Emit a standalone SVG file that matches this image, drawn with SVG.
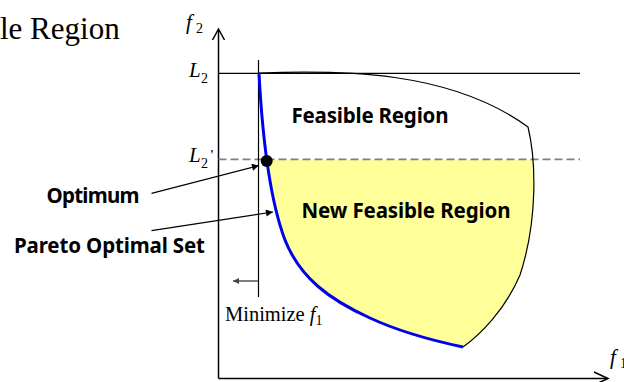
<svg xmlns="http://www.w3.org/2000/svg" width="624" height="382" viewBox="0 0 624 382">
  <style>
    .ax{stroke:#000;stroke-width:1.5;fill:none}
    .thin{stroke:#000;stroke-width:1.2;fill:none}
    .lbl{font-family:"Noto Sans","Liberation Sans",sans-serif;font-weight:bold;font-size:20.5px;fill:#000}
    .ser{font-family:"Liberation Serif","Times New Roman",serif;fill:#000}
    .it{font-style:italic}
  </style>
  <defs>
    <marker id="ah" viewBox="0 0 10 10" refX="10" refY="5" markerWidth="9" markerHeight="7" markerUnits="userSpaceOnUse" orient="auto">
      <path d="M0,0 L10,5 L0,10 Z" fill="#000"/>
    </marker>
    <marker id="ahg" viewBox="0 0 10 10" refX="10" refY="5" markerWidth="7" markerHeight="6" markerUnits="userSpaceOnUse" orient="auto">
      <path d="M0,0 L10,5 L0,10 Z" fill="#444"/>
    </marker>
    <clipPath id="below">
      <rect x="0" y="160" width="624" height="222"/>
    </clipPath>
  </defs>

  <g id="title">
    <text class="ser" x="0" y="39" font-size="31">le Region</text>
  </g>

  <g id="axes">
    <line class="ax" x1="218.5" y1="30" x2="218.5" y2="378.5"/>
    <line class="ax" x1="218.5" y1="378.5" x2="608" y2="378.5"/>
    <path class="ax" d="M212.5,40 L218.5,29 L224.5,40"/>
    <path class="ax" d="M594,372 L608,378.5 L594,385"/>
    <text class="ser it" x="186" y="29" font-size="21">f</text>
    <text class="ser" x="196" y="32.5" font-size="14">2</text>
    <text class="ser it" x="610" y="364" font-size="21">f</text>
    <text class="ser" x="620" y="368" font-size="14">1</text>
  </g>

  <g id="new-feasible-region">
    <path clip-path="url(#below)" fill="#ffff99" stroke="none" d="M259,73 C 340,70 450,70 528,127 C 536,160 538,220 520,275 C 505,310 480,335 463,347 C 430,340 400,332 370,318 C 330,300 300,278 285,240 C 268,195 262,130 259,73 Z"/>
  </g>

  <g id="L2">
    <line class="thin" x1="218.5" y1="73.3" x2="580" y2="73.3"/>
    <text class="ser it" x="189" y="77" font-size="21">L</text>
    <text class="ser" x="201" y="83" font-size="14">2</text>
  </g>

  <g id="L2prime">
    <line x1="218.5" y1="159.3" x2="580" y2="159.3" stroke="#808080" stroke-width="1.8" stroke-dasharray="8,4"/>
    <text class="ser it" x="189" y="161.5" font-size="21">L</text>
    <text class="ser" x="201" y="168" font-size="14">2</text>
    <text class="ser" x="209.5" y="160" font-size="14">’</text>
  </g>

  <g id="minimize">
    <line class="thin" x1="258.5" y1="60" x2="258.5" y2="297"/>
    <line x1="258" y1="281" x2="233" y2="281" stroke="#555" stroke-width="1.5" marker-end="url(#ahg)"/>
    <text class="ser" x="225" y="321" font-size="20.5">Minimize <tspan class="it">f</tspan><tspan font-size="14" dy="4">1</tspan></text>
  </g>

  <g id="feasible-region">
    <path class="thin" d="M259,73 C 340,70 450,70 528,127 C 536,160 538,220 520,275 C 505,310 480,335 463,347"/>
    <text class="lbl" x="291.5" y="123.3" textLength="157">Feasible Region</text>
    <text class="lbl" x="301.5" y="218.3" textLength="209">New Feasible Region</text>
  </g>

  <g id="pareto-set">
    <path d="M259,73 C 262,130 268,195 285,240 C 300,278 330,300 370,318 C 400,332 430,340 463,347" fill="none" stroke="#0000ee" stroke-width="3"/>
  </g>

  <g id="optimum">
    <circle cx="266.7" cy="161" r="6" fill="#000"/>
  </g>

  <g id="labels">
    <text class="lbl" x="46.5" y="203.3" textLength="93">Optimum</text>
    <text class="lbl" x="14" y="253.3" textLength="191">Pareto Optimal Set</text>
  </g>

  <g id="connectors">
    <line x1="151.5" y1="193.3" x2="259" y2="165.5" stroke="#000" stroke-width="1.2" marker-end="url(#ah)"/>
    <line x1="151.5" y1="230.7" x2="273" y2="212" stroke="#000" stroke-width="1.2" marker-end="url(#ah)"/>
  </g>
</svg>
